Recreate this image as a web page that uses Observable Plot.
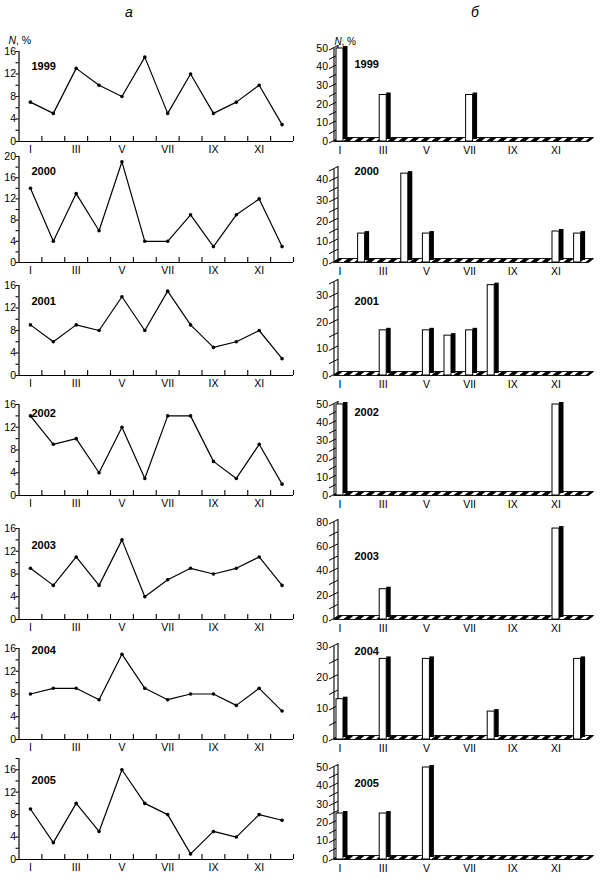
<!DOCTYPE html>
<html><head><meta charset="utf-8">
<script src="https://cdn.jsdelivr.net/npm/d3@7"></script>
<script src="https://cdn.jsdelivr.net/npm/@observablehq/plot@0.6"></script>
<style>
body{margin:0;background:#fff;}
#wrap{position:relative;width:600px;height:883px;overflow:hidden;background:#fff;font-family:"Liberation Sans",Arial,sans-serif;color:#000;}
.panel{position:absolute;}
.hdr{position:absolute;font-style:italic;font-size:14px;transform:translate(-50%,-50%);}
</style></head><body><div id="wrap"></div>
<script>
// ---------- data ----------
const months = ["I","II","III","IV","V","VI","VII","VIII","IX","X","XI","XII"];
const years = ["1999","2000","2001","2002","2003","2004","2005"];
// panel a: N, % by month (line)
const lineA1999 = [7,5,13,10,8,15,5,12,5,7,10,3];
const lineA2000 = [14,4,13,6,19,4,4,9,3,9,12,3];
const lineA2001 = [9,6,9,8,14,8,15,9,5,6,8,3];
const lineA2002 = [14,9,10,4,12,3,14,14,6,3,9,2];
const lineA2003 = [9,6,11,6,14,4,7,9,8,9,11,6];
const lineA2004 = [8,9,9,7,15,9,7,8,8,6,9,5];
const lineA2005 = [9,3,10,5,16,10,8,1,5,4,8,7];
// panel б: N, % by month (bars)
const barB1999 = [50,0,25,0,0,0,25,0,0,0,0,0];
const barB2000 = [0,14,0,43,14,0,0,0,0,0,15,14];
const barB2001 = [0,0,17,0,17,15,17,34,0,0,0,0];
const barB2002 = [50,0,0,0,0,0,0,0,0,0,50,0];
const barB2003 = [0,0,25,0,0,0,0,0,0,0,75,0];
const barB2004 = [13,0,26,0,26,0,0,9,0,0,0,26];
const barB2005 = [25,0,25,0,50,0,0,0,0,0,0,0];
// axis ticks
const leftTicks16 = [0,4,8,12,16];
const leftTicks20 = [0,4,8,12,16,20];
const rightTicks50 = [0,10,20,30,40,50];
const rightTicks40 = [0,10,20,30,40];
const rightTicks30 = [0,10,20,30];
const rightTicks80 = [0,20,40,60,80];
const monthTickLabels = ["I","III","V","VII","IX","XI"];

const lineSeries = [lineA1999,lineA2000,lineA2001,lineA2002,lineA2003,lineA2004,lineA2005];
const barSeries = [barB1999,barB2000,barB2001,barB2002,barB2003,barB2004,barB2005];
const leftTicks = [leftTicks16,leftTicks20,leftTicks16,leftTicks16,leftTicks16,leftTicks16,leftTicks16];
const rightTicks = [rightTicks50,rightTicks40,rightTicks30,rightTicks50,rightTicks80,rightTicks30,rightTicks50];

// ---------- layout ----------
const baselines = [141,262,375,495,619,739,859];
const BASE = 112, SVGH = 130;
const leftMax = [16,20,16,16,16,16,18];
const leftH = [90,106,90,91,91,91,101];
const rightMax = [50,45,35,50,80,30,50];
const rightH = [93,93,93,91,97,93,92];
const rightMinorStep = [5,5,5,5,10,5,5];
const leftYearUp = [79,95,78,86,78,93,83];
const rightYearUp = [81,95,78,87,67,92,80];
const FONT = '"Liberation Sans", Arial, sans-serif';

const wrap = document.getElementById("wrap");
function hdr(t,x,y){const d=document.createElement("div");d.className="hdr";d.textContent=t;d.style.left=x+"px";d.style.top=y+"px";wrap.appendChild(d);}
hdr("а",129,12);
hdr("б",475,12);

function place(svg,left,top){
  const d=document.createElement("div");d.className="panel";d.style.left=left+"px";d.style.top=top+"px";
  d.appendChild(svg);wrap.appendChild(d);
}

function leftPanel(i){
  const data = lineSeries[i].map((v,j)=>({m:j+1,v}));
  const ymax = leftMax[i], h = leftH[i], k = h/ymax;
  const X0 = 18.5, X1 = 293, ppm = (X1-X0)/12;
  const major = leftTicks[i];
  const minor = d3.range(2, ymax+0.1, 4);
  const bounds = d3.range(1.5, 12.6, 1);
  const marks = [
    Plot.ruleX([0.5],{y1:0,y2:ymax,stroke:"#000",strokeWidth:1.2}),
    Plot.ruleY([0],{x1:0.5,x2:12.5,stroke:"#000",strokeWidth:1.2}),
    Plot.ruleX(bounds,{y1:0,y2:5/k,stroke:"#000",strokeWidth:1.1}),
    Plot.ruleY(major.concat(minor),{x1:0.5-3/ppm,x2:0.5,stroke:"#000",strokeWidth:1.1}),
    Plot.text(major,{x:0.5,y:d=>d,text:d=>String(d),dx:-3,textAnchor:"end",fontSize:10.5}),
    Plot.text(monthTickLabels,{x:d=>months.indexOf(d)+1,y:0,dy:8,text:d=>d,fontSize:10.5}),
    Plot.line(data,{x:"m",y:"v",stroke:"#000",strokeWidth:1.2}),
    Plot.dot(data,{x:"m",y:"v",r:1.8,fill:"#000",stroke:"none"}),
    Plot.text([years[i]],{frameAnchor:"top-left",dx:31,dy:BASE-leftYearUp[i],text:d=>d,textAnchor:"start",fontWeight:"bold",fontSize:11})
  ];
  if(i===0){
    marks.push(Plot.text(["N"],{frameAnchor:"top-left",dx:8,dy:BASE-(141-36),text:d=>d,textAnchor:"start",fontStyle:"italic",fontSize:10.5}));
    marks.push(Plot.text([", %"],{frameAnchor:"top-left",dx:15.5,dy:BASE-(141-36),text:d=>d,textAnchor:"start",fontSize:10.5}));
  }
  return Plot.plot({width:300,height:SVGH,margin:0,
    x:{domain:[0.5,12.5],range:[X0,X1],axis:null},
    y:{domain:[0,ymax],range:[BASE,BASE-h],axis:null},
    style:{fontFamily:FONT,color:"#000",background:"transparent",overflow:"visible"},
    marks});
}

function rightPanel(i){
  const data = barSeries[i].map((v,j)=>({m:j+1,v})).filter(d=>d.v>0);
  const ymax = rightMax[i], h = rightH[i], k = h/ymax;
  const C1 = 39.5, PPM = 21.6;
  const px2m = p => 1 + (p-C1)/PPM;
  const wallX = 33.5;
  const major = rightTicks[i];
  const allTicks = d3.range(0, ymax+0.1, rightMinorStep[i]);
  const fh = 4/k;
  const floor = [
    {x:px2m(wallX),y:0},{x:px2m(288),y:0},{x:px2m(293),y:fh},{x:px2m(wallX+4),y:fh},{x:px2m(wallX),y:0}
  ];
  const marks = [
    Plot.line(floor,{x:"x",y:"y",fill:`url(#hatch${i})`,stroke:"#000",strokeWidth:0.9}),
    Plot.ruleX([px2m(wallX)],{y1:0,y2:ymax,stroke:"#000",strokeWidth:1.1}),
    Plot.ruleX([px2m(wallX+4)],{y1:fh,y2:ymax+3/k,stroke:"#000",strokeWidth:1.1}),
    Plot.link(allTicks,{x1:px2m(wallX-5),y1:d=>d-1.5/k,x2:px2m(wallX+4),y2:d=>d+3/k,stroke:"#000",strokeWidth:1}),
    Plot.text(major,{x:px2m(wallX-6),y:d=>d,text:d=>String(d),textAnchor:"end",fontSize:10.5}),
    Plot.rect(data,{x1:d=>d.m+3.5/PPM,x2:d=>d.m+8/PPM,y1:0,y2:"v",fill:"#000",dy:-2}),
    Plot.rect(data,{x1:d=>d.m-3.5/PPM,x2:d=>d.m+3.5/PPM,y1:0,y2:"v",fill:"#fff",stroke:"#000",strokeWidth:1}),
    Plot.text(monthTickLabels,{x:d=>months.indexOf(d)+1,y:0,dy:9,text:d=>d,fontSize:10.5}),
    Plot.text([years[i]],{frameAnchor:"top-left",dx:54,dy:BASE-rightYearUp[i],text:d=>d,textAnchor:"start",fontWeight:"bold",fontSize:11})
  ];
  if(i===0){
    marks.push(Plot.text(["N"],{frameAnchor:"top-left",dx:34,dy:BASE-(141-37),text:d=>d,textAnchor:"start",fontStyle:"italic",fontSize:10}));
    marks.push(Plot.text([", %"],{frameAnchor:"top-left",dx:41,dy:BASE-(141-37),text:d=>d,textAnchor:"start",fontSize:10}));
  }
  const svg = Plot.plot({width:300,height:SVGH,margin:0,
    x:{domain:[1,12],range:[C1,C1+11*PPM],axis:null},
    y:{domain:[0,ymax],range:[BASE,BASE-h],axis:null},
    style:{fontFamily:FONT,color:"#000",background:"transparent",overflow:"visible"},
    marks});
  d3.select(svg).insert("defs",":first-child").html(
    `<pattern id="hatch${i}" patternUnits="userSpaceOnUse" width="11" height="8" patternTransform="skewX(-50)"><rect width="11" height="8" fill="#fff"/><rect x="0" width="6" height="8" fill="#000"/></pattern>`);
  return svg;
}

for(let i=0;i<7;i++){
  place(leftPanel(i),0,baselines[i]-BASE);
  place(rightPanel(i),300,baselines[i]-BASE);
}
</script></body></html>
